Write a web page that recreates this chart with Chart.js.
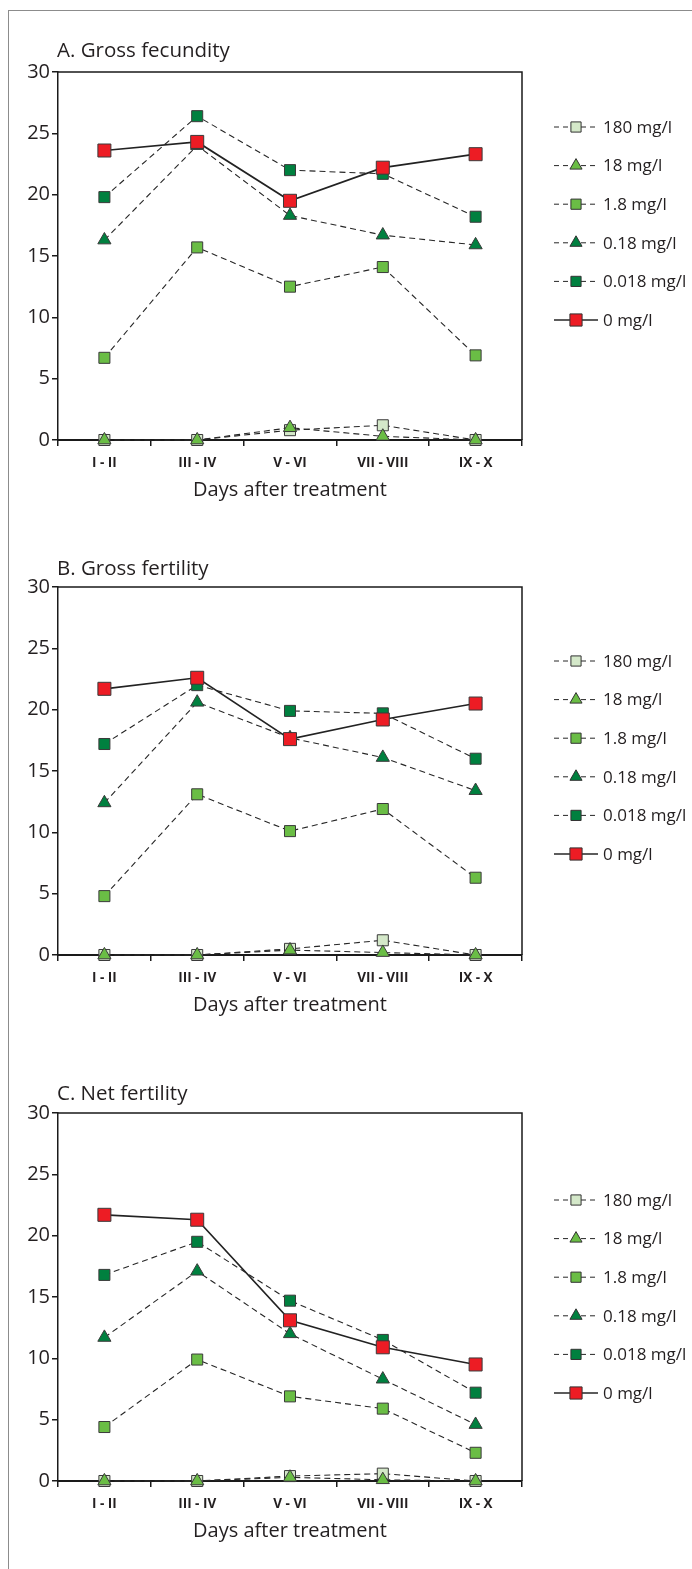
<!DOCTYPE html>
<html>
<head>
<meta charset="utf-8">
<script src="https://cdn.jsdelivr.net/npm/chart.js@4.4.1/dist/chart.umd.min.js"></script>
<style>
  body { margin: 0; background: #fff; width: 692px; height: 1569px; position: relative; overflow: hidden; }
  .frame { position: absolute; left: 8px; top: 10px; right: -10px; bottom: -10px;
           border-left: 1px solid #8c8c8c; border-top: 1px solid #8c8c8c; }
  canvas { position: absolute; left: 0; }
</style>
</head>
<body>
<div class="frame"></div>
<canvas id="chartA" width="692" height="515" style="top:0px"></canvas>
<canvas id="chartB" width="692" height="515" style="top:515px"></canvas>
<canvas id="chartC" width="692" height="515" style="top:1041px"></canvas>
<script>
// Categories and ticks
const periods = ['I - II', 'III - IV', 'V - VI', 'VII - VIII', 'IX - X'];
const yTicks = [0, 5, 10, 15, 20, 25, 30];
const concentrations = ['180 mg/l', '18 mg/l', '1.8 mg/l', '0.18 mg/l', '0.018 mg/l', '0 mg/l'];

// A. Gross fecundity
const fecundity180 = [0, 0, 0.8, 1.2, 0];
const fecundity18 = [0, 0, 1.0, 0.3, 0];
const fecundity1_8 = [6.7, 15.7, 12.5, 14.1, 6.9];
const fecundity0_18 = [16.3, 24.0, 18.3, 16.7, 15.9];
const fecundity0_018 = [19.8, 26.4, 22.0, 21.7, 18.2];
const fecundity0 = [23.6, 24.3, 19.5, 22.2, 23.3];

// B. Gross fertility
const grossFert180 = [0, 0, 0.5, 1.2, 0];
const grossFert18 = [0, 0, 0.4, 0.2, 0];
const grossFert1_8 = [4.8, 13.1, 10.1, 11.9, 6.3];
const grossFert0_18 = [12.4, 20.6, 17.7, 16.1, 13.4];
const grossFert0_018 = [17.2, 22.0, 19.9, 19.7, 16.0];
const grossFert0 = [21.7, 22.6, 17.6, 19.2, 20.5];

// C. Net fertility
const netFert180 = [0, 0, 0.4, 0.6, 0];
const netFert18 = [0, 0, 0.3, 0.1, 0];
const netFert1_8 = [4.4, 9.9, 6.9, 5.9, 2.3];
const netFert0_18 = [11.7, 17.1, 12.0, 8.3, 4.6];
const netFert0_018 = [16.8, 19.5, 14.7, 11.5, 7.2];
const netFert0 = [21.7, 21.3, 13.1, 10.9, 9.5];

// Look of each concentration, same order as concentrations
const seriesStyles = [
    { fill: '#d4e8c9', shape: 'rect', radius: 7.8, solid: false },
    { fill: '#6abd45', shape: 'triangle', radius: 7.6, solid: false },
    { fill: '#6abd45', shape: 'rect', radius: 7.8, solid: false },
    { fill: '#00803f', shape: 'triangle', radius: 7.6, solid: false },
    { fill: '#00803f', shape: 'rect', radius: 7.8, solid: false },
    { fill: '#ed1c24', shape: 'rect', radius: 9.2, solid: true }
];

const textColor = '#231f20';
const axisColor = '#1a1a1a';
const dashColor = '#262626';
Chart.defaults.font.family = '"Open Sans", sans-serif';

// Title, top/right frame of the plot and the line+marker legend
const decorPlugin = {
    id: 'decor',
    afterDraw(chart, args, opts) {
        const ctx = chart.ctx;
        const a = chart.chartArea;
        ctx.save();

        ctx.strokeStyle = axisColor;
        ctx.lineWidth = 1.5;
        ctx.beginPath();
        ctx.moveTo(a.left, a.top);
        ctx.lineTo(a.right, a.top);
        ctx.lineTo(a.right, a.bottom);
        ctx.stroke();

        ctx.fillStyle = textColor;
        ctx.font = '20.5px "Open Sans"';
        ctx.textBaseline = 'alphabetic';
        ctx.textAlign = 'left';
        ctx.fillText(opts.title, a.left - 1, a.top - opts.titleGap);

        concentrations.forEach((name, i) => {
            const st = seriesStyles[i];
            const y = a.top + opts.legendTop + i * 38.6;
            ctx.strokeStyle = dashColor;
            ctx.lineWidth = st.solid ? 1.6 : 1;
            ctx.setLineDash(st.solid ? [] : [5, 4]);
            ctx.beginPath();
            ctx.moveTo(554, y);
            ctx.lineTo(598, y);
            ctx.stroke();
            ctx.setLineDash([]);
            ctx.fillStyle = st.fill;
            ctx.strokeStyle = '#333';
            ctx.lineWidth = 1;
            Chart.helpers.drawPoint(ctx, {
                pointStyle: st.shape, radius: st.radius - 0.6, rotation: 0, borderWidth: 1
            }, 576, y);
            ctx.fillStyle = textColor;
            ctx.font = '17px "Open Sans"';
            ctx.textBaseline = 'middle';
            ctx.fillText(name, 603, y + 1);
        });
        ctx.restore();
    }
};

function createPanel(canvasId, title, titleGap, legendTop, seriesValues) {
    // draw the 0 mg/l series on top, 180 mg/l at the bottom
    const datasets = seriesValues.map((values, i) => {
        const st = seriesStyles[i];
        return {
            label: concentrations[i],
            data: values,
            borderColor: st.solid ? '#222' : dashColor,
            borderWidth: st.solid ? 1.7 : 1.1,
            borderDash: st.solid ? [] : [6, 4],
            pointStyle: st.shape,
            pointRadius: st.radius,
            pointBackgroundColor: st.fill,
            pointBorderColor: '#3a3a3a',
            pointBorderWidth: 1,
            tension: 0,
            fill: false,
            clip: false
        };
    }).reverse();

    return new Chart(document.getElementById(canvasId), {
        type: 'line',
        data: { labels: periods, datasets: datasets },
        plugins: [decorPlugin],
        options: {
            responsive: false,
            animation: false,
            layout: { padding: { left: 8, top: 72, right: 170, bottom: 13 } },
            plugins: {
                legend: { display: false },
                tooltip: { enabled: false },
                decor: { title: title, titleGap: titleGap, legendTop: legendTop }
            },
            scales: {
                x: {
                    offset: true,
                    afterFit: s => { s.height = 62; },
                    grid: { offset: true, drawOnChartArea: false, drawTicks: true, tickLength: 6, color: axisColor, lineWidth: 1.5 },
                    border: { display: true, color: axisColor, width: 2 },
                    ticks: { font: { size: 13.5, weight: 'bold' }, color: textColor, padding: 9, maxRotation: 0, autoSkip: false },
                    title: { display: true, text: 'Days after treatment', font: { size: 20 }, color: textColor, padding: { top: 0, bottom: 0 } }
                },
                y: {
                    min: 0,
                    max: 30,
                    afterFit: s => { s.width = 50; },
                    afterBuildTicks: s => { s.ticks = yTicks.map(v => ({ value: v })); },
                    grid: { drawOnChartArea: false, drawTicks: true, tickLength: 6, color: axisColor, lineWidth: 1.5 },
                    border: { display: true, color: axisColor, width: 1.5 },
                    ticks: { font: { size: 20 }, color: textColor, padding: 2 }
                }
            }
        }
    });
}

createPanel('chartA', 'A. Gross fecundity', 15, 55,
    [fecundity180, fecundity18, fecundity1_8, fecundity0_18, fecundity0_018, fecundity0]);
createPanel('chartB', 'B. Gross fertility', 12, 74,
    [grossFert180, grossFert18, grossFert1_8, grossFert0_18, grossFert0_018, grossFert0]);
createPanel('chartC', 'C. Net fertility', 13, 87,
    [netFert180, netFert18, netFert1_8, netFert0_18, netFert0_018, netFert0]);
</script>
</body>
</html>
